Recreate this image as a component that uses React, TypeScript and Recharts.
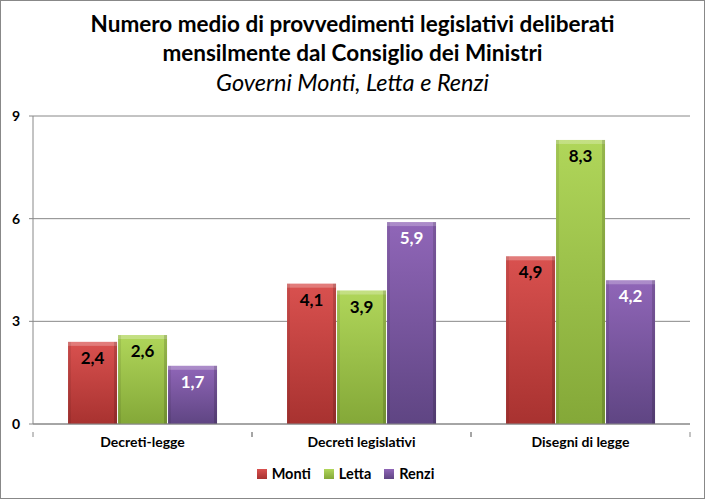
import { BarChart, Bar, XAxis, YAxis, CartesianGrid, Legend, LabelList } from 'recharts'

const categories = ['Decreti-legge', 'Decreti legislativi', 'Disegni di legge']
const monti = [2.4, 4.1, 4.9]
const letta = [2.6, 3.9, 8.3]
const renzi = [1.7, 5.9, 4.2]
const yTicks = [0, 3, 6, 9]

const FONT = 'Lato, "Open Sans", sans-serif'

const data = categories.map((name, i) => ({
  name,
  Monti: monti[i],
  Letta: letta[i],
  Renzi: renzi[i],
}))

const fmt = (v: any) => Number(v).toFixed(1).replace('.', ',')

const series = [
  { key: 'Monti', top: '#d9514f', bottom: '#a83230', label: '#000' },
  { key: 'Letta', top: '#b0d65a', bottom: '#84a838', label: '#000' },
  { key: 'Renzi', top: '#9066b8', bottom: '#5f4583', label: '#fff' },
]

const BevelBar = (props: any) => {
  const { x, y, width, height, id } = props
  if (!height || height <= 0) return null
  return (
    <g>
      <rect x={x} y={y} width={width} height={height} fill={`url(#grad-${id})`} />
      <rect x={x} y={y} width={width} height={4} fill="#fff" opacity={0.25} />
      <rect x={x} y={y} width={3} height={height} fill="#000" opacity={0.08} />
      <rect x={x + width - 3} y={y} width={3} height={height} fill="#000" opacity={0.15} />
    </g>
  )
}

const CategoryTick = (props: any) => {
  const { x, y, payload } = props
  const half = payload.offset || 0
  return (
    <g>
      <line x1={x - half} y1={y} x2={x - half} y2={y + 5} stroke="#888" />
      <line x1={x + half} y1={y} x2={x + half} y2={y + 5} stroke="#888" />
      <text x={x} y={y + 15} textAnchor="middle" fontFamily={FONT} fontWeight={700} fontSize={14} fill="#000">
        {payload.value}
      </text>
    </g>
  )
}

const LegendContent = () => (
  <div style={{ display: 'flex', justifyContent: 'center', gap: 13, fontFamily: FONT, fontWeight: 700, fontSize: 14.5 }}>
    {series.map((s) => (
      <div key={s.key} style={{ display: 'flex', alignItems: 'center', gap: 5 }}>
        <span
          style={{
            display: 'inline-block',
            width: 10,
            height: 10,
            background: `linear-gradient(${s.top}, ${s.bottom})`,
          }}
        />
        <span style={{ color: '#000' }}>{s.key}</span>
      </div>
    ))}
  </div>
)

export default function App() {
  return (
    <div
      style={{
        position: 'absolute',
        left: 0,
        top: 0,
        width: 703,
        height: 497,
        border: '1px solid #888',
        background: '#fff',
        fontFamily: FONT,
      }}
    >
      <div style={{ position: 'absolute', left: 0, top: 8, width: 703, textAlign: 'center', color: '#000' }}>
        <div style={{ fontSize: 22.5, fontWeight: 700, lineHeight: '29px' }}>
          Numero medio di provvedimenti legislativi deliberati
        </div>
        <div style={{ fontSize: 22.5, fontWeight: 700, lineHeight: '29px' }}>
          mensilmente dal Consiglio dei Ministri
        </div>
        <div style={{ fontSize: 23.5, fontStyle: 'italic', lineHeight: '31px' }}>Governi Monti, Letta e Renzi</div>
      </div>
      <BarChart
        width={703}
        height={497}
        data={data}
        margin={{ top: 115, right: 14, left: 0, bottom: 9 }}
        barCategoryGap="16%"
        barGap={1}
      >
        <defs>
          {series.map((s) => (
            <linearGradient key={s.key} id={`grad-${s.key}`} x1="0" y1="0" x2="0" y2="1">
              <stop offset="0%" stopColor={s.top} />
              <stop offset="100%" stopColor={s.bottom} />
            </linearGradient>
          ))}
        </defs>
        <CartesianGrid vertical={false} stroke="#888" strokeWidth={1} />
        <XAxis
          dataKey="name"
          axisLine={{ stroke: '#888' }}
          tickLine={false}
          tick={<CategoryTick />}
          height={41}
          interval={0}
        />
        <YAxis
          domain={[0, 9]}
          ticks={yTicks}
          width={32}
          axisLine={{ stroke: '#888' }}
          tickLine={{ stroke: '#888' }}
          tickSize={4}
          tickMargin={9}
          tick={{ fontFamily: FONT, fontWeight: 700, fontSize: 14, fill: '#000' }}
        />
        <Legend verticalAlign="bottom" height={24} content={<LegendContent />} />
        {series.map((s) => (
          <Bar
            key={s.key}
            dataKey={s.key}
            fill={s.bottom}
            isAnimationActive={false}
            shape={(p: any) => <BevelBar {...p} id={s.key} />}
          >
            <LabelList
              dataKey={s.key}
              position="insideTop"
              offset={10}
              formatter={fmt}
              fill={s.label}
              fontFamily={FONT}
              fontWeight={700}
              fontSize={17}
            />
          </Bar>
        ))}
      </BarChart>
    </div>
  )
}
